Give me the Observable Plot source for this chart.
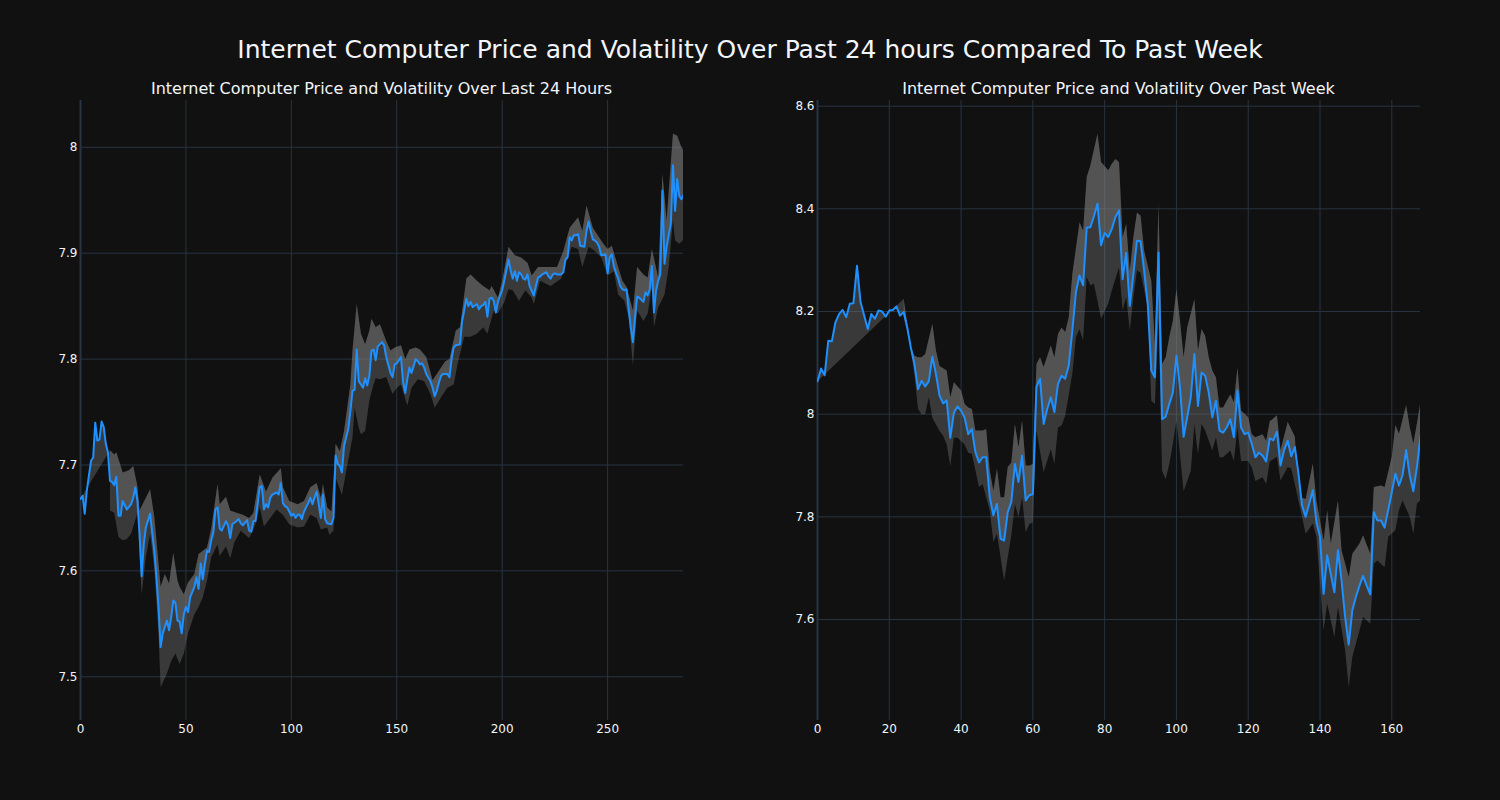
<!DOCTYPE html>
<html><head><meta charset="utf-8">
<script src="https://cdn.jsdelivr.net/npm/d3@7"></script>
<script src="https://cdn.jsdelivr.net/npm/@observablehq/plot@0.6"></script>
<style>
body{margin:0;background:#111111;}
#wrap{position:relative;width:1500px;height:800px;background:#111111;font-family:"DejaVu Sans",sans-serif;color:#f2f5fa;overflow:hidden;}
.t{position:absolute;white-space:nowrap;transform:translateX(-50%);line-height:1;}
.chart{position:absolute;top:0;}
</style></head><body><div id="wrap">
<div class="t" id="mainTitle" style="left:750px;top:36.5px;font-size:25px"></div>
<div class="t" id="subL" style="left:381.5px;top:80.5px;font-size:16px"></div>
<div class="t" id="subR" style="left:1118.5px;top:80.5px;font-size:16px"></div>
<div class="chart" id="left" style="left:0px"></div>
<div class="chart" id="right" style="left:737px"></div>
</div>
<script>
// ---- texts ----
const mainTitle = "Internet Computer Price and Volatility Over Past 24 hours Compared To Past Week";
const leftTitle = "Internet Computer Price and Volatility Over Last 24 Hours";
const rightTitle = "Internet Computer Price and Volatility Over Past Week";

// ---- last 24 hours: [index, value] ----
const dayPrice = [[0,7.668],[1,7.671],[2,7.654],[3,7.676],[5,7.704],[6,7.707],[7,7.740],[8,7.723],[9,7.724],[10,7.741],[11,7.736],[12,7.720],[13,7.712],[14,7.685],[15,7.684],[16,7.681],[17,7.689],[18,7.652],[19,7.652],[20,7.666],[21,7.662],[22,7.658],[24,7.663],[25,7.669],[26,7.679],[27,7.666],[28,7.635],[29,7.595],[30,7.625],[31,7.641],[33,7.654],[34,7.636],[35,7.619],[36,7.594],[37,7.566],[38,7.528],[39,7.541],[41,7.553],[42,7.544],[43,7.556],[44,7.572],[45,7.570],[46,7.553],[47,7.552],[48,7.541],[49,7.559],[50,7.566],[51,7.561],[52,7.575],[54,7.585],[55,7.594],[56,7.583],[57,7.607],[58,7.592],[59,7.607],[60,7.619],[61,7.618],[62,7.629],[63,7.636],[64,7.658],[65,7.660],[66,7.640],[67,7.638],[69,7.647],[70,7.643],[71,7.631],[72,7.644],[74,7.647],[75,7.649],[76,7.645],[77,7.643],[79,7.648],[80,7.638],[81,7.637],[82,7.647],[83,7.647],[85,7.679],[86,7.680],[87,7.658],[88,7.663],[89,7.660],[90,7.669],[91,7.672],[93,7.674],[94,7.672],[95,7.683],[96,7.664],[97,7.661],[98,7.660],[100,7.652],[101,7.654],[102,7.650],[103,7.653],[104,7.653],[105,7.649],[106,7.656],[108,7.664],[109,7.669],[110,7.663],[112,7.675],[113,7.663],[114,7.650],[115,7.672],[116,7.649],[117,7.645],[119,7.644],[120,7.650],[121,7.709],[122,7.701],[123,7.699],[124,7.693],[125,7.718],[127,7.734],[128,7.751],[129,7.770],[130,7.771],[131,7.809],[132,7.779],[133,7.776],[134,7.773],[135,7.782],[136,7.775],[137,7.784],[138,7.808],[139,7.809],[140,7.799],[141,7.812],[143,7.816],[144,7.813],[145,7.802],[147,7.787],[148,7.783],[149,7.795],[150,7.796],[152,7.802],[153,7.778],[154,7.768],[155,7.781],[156,7.792],[157,7.787],[159,7.800],[160,7.798],[161,7.795],[162,7.796],[163,7.792],[164,7.786],[166,7.779],[167,7.773],[168,7.765],[169,7.770],[170,7.778],[171,7.784],[172,7.786],[174,7.786],[175,7.783],[176,7.800],[177,7.811],[178,7.813],[180,7.814],[181,7.836],[182,7.846],[183,7.857],[184,7.850],[185,7.854],[186,7.849],[188,7.852],[189,7.847],[190,7.850],[191,7.851],[192,7.854],[193,7.840],[194,7.857],[195,7.858],[196,7.855],[197,7.844],[198,7.854],[199,7.860],[200,7.865],[201,7.874],[203,7.894],[204,7.884],[205,7.876],[206,7.883],[207,7.874],[208,7.882],[209,7.880],[210,7.876],[211,7.875],[212,7.880],[213,7.869],[215,7.860],[216,7.869],[217,7.877],[218,7.878],[219,7.880],[221,7.882],[222,7.878],[223,7.876],[224,7.880],[225,7.881],[226,7.880],[228,7.880],[229,7.882],[230,7.894],[231,7.896],[232,7.915],[233,7.912],[234,7.917],[235,7.917],[236,7.918],[237,7.907],[239,7.906],[240,7.921],[241,7.930],[242,7.921],[243,7.913],[244,7.912],[245,7.910],[246,7.906],[247,7.898],[249,7.899],[250,7.881],[251,7.896],[252,7.899],[253,7.887],[255,7.876],[256,7.869],[257,7.866],[258,7.865],[259,7.866],[260,7.847],[261,7.830],[262,7.816],[263,7.839],[264,7.859],[265,7.858],[267,7.854],[268,7.863],[269,7.860],[270,7.866],[271,7.888],[272,7.844],[273,7.865],[274,7.874],[275,7.880],[276,7.959],[277,7.890],[278,7.906],[280,7.928],[281,7.983],[282,7.940],[283,7.970],[284,7.954],[285,7.951],[286,7.955]];
const dayUpper = [[14,7.714],[16,7.710],[17,7.712],[20,7.693],[23,7.695],[25,7.699],[27,7.680],[28,7.657],[33,7.677],[35,7.651],[38,7.585],[40,7.597],[42,7.588],[44,7.617],[46,7.591],[47,7.585],[49,7.578],[51,7.589],[54,7.597],[56,7.616],[58,7.619],[60,7.622],[62,7.640],[65,7.682],[66,7.663],[69,7.670],[71,7.657],[74,7.655],[77,7.653],[80,7.650],[82,7.655],[85,7.691],[88,7.675],[91,7.688],[95,7.697],[96,7.679],[99,7.666],[103,7.663],[106,7.666],[109,7.679],[112,7.683],[114,7.669],[115,7.682],[117,7.660],[119,7.656],[121,7.720],[123,7.713],[125,7.732],[128,7.776],[129,7.808],[131,7.852],[133,7.824],[135,7.814],[137,7.827],[138,7.838],[140,7.830],[142,7.833],[145,7.817],[147,7.808],[149,7.811],[152,7.813],[154,7.800],[156,7.809],[159,7.811],[161,7.809],[164,7.802],[167,7.780],[171,7.792],[173,7.798],[175,7.800],[178,7.827],[180,7.830],[183,7.876],[185,7.880],[188,7.874],[191,7.869],[194,7.865],[195,7.869],[198,7.858],[200,7.874],[203,7.906],[206,7.898],[209,7.896],[212,7.891],[214,7.879],[217,7.887],[220,7.887],[223,7.887],[226,7.887],[229,7.902],[232,7.924],[236,7.934],[238,7.921],[240,7.945],[243,7.924],[245,7.918],[248,7.909],[250,7.904],[252,7.907],[255,7.887],[257,7.874],[259,7.868],[262,7.846],[264,7.887],[267,7.880],[269,7.877],[271,7.904],[274,7.877],[276,7.975],[278,7.931],[281,8.013],[283,8.011],[285,8.000],[286,7.997]];
const dayLower = [[14,7.657],[16,7.655],[18,7.632],[20,7.629],[22,7.630],[24,7.635],[27,7.655],[29,7.578],[31,7.613],[33,7.635],[35,7.603],[37,7.541],[38,7.490],[41,7.503],[43,7.515],[45,7.522],[47,7.512],[49,7.522],[51,7.541],[54,7.559],[56,7.566],[58,7.575],[60,7.591],[62,7.613],[65,7.625],[66,7.614],[69,7.623],[71,7.612],[73,7.627],[76,7.638],[80,7.631],[83,7.644],[85,7.660],[87,7.642],[90,7.650],[93,7.658],[96,7.653],[99,7.644],[103,7.641],[106,7.642],[109,7.653],[112,7.650],[114,7.639],[117,7.641],[118,7.634],[120,7.638],[121,7.688],[124,7.672],[126,7.694],[129,7.726],[130,7.754],[132,7.735],[133,7.729],[135,7.732],[137,7.761],[139,7.776],[140,7.782],[142,7.781],[145,7.783],[148,7.767],[150,7.773],[152,7.776],[155,7.756],[157,7.773],[160,7.781],[163,7.779],[166,7.767],[168,7.754],[171,7.764],[174,7.773],[177,7.776],[179,7.797],[182,7.821],[185,7.821],[188,7.824],[191,7.830],[193,7.824],[196,7.846],[198,7.843],[201,7.854],[203,7.866],[205,7.865],[208,7.855],[211,7.865],[214,7.858],[215,7.852],[218,7.874],[223,7.869],[228,7.876],[230,7.890],[233,7.906],[236,7.904],[238,7.887],[241,7.906],[244,7.902],[247,7.896],[250,7.879],[253,7.883],[255,7.861],[258,7.855],[260,7.839],[262,7.794],[264,7.846],[267,7.836],[269,7.843],[271,7.868],[272,7.830],[274,7.849],[277,7.861],[279,7.887],[281,7.931],[282,7.912],[284,7.909],[286,7.913]];

// ---- past week: [index, value] ----
const weekPrice = [[0,8.064],[1,8.089],[2,8.076],[3,8.143],[4,8.142],[5,8.179],[6,8.195],[7,8.203],[8,8.189],[9,8.215],[10,8.216],[11,8.289],[12,8.218],[13,8.192],[14,8.166],[15,8.195],[16,8.186],[17,8.202],[18,8.200],[19,8.190],[20,8.202],[21,8.203],[22,8.210],[23,8.192],[24,8.199],[25,8.169],[26,8.130],[27,8.098],[28,8.049],[29,8.065],[30,8.054],[31,8.064],[32,8.112],[33,8.078],[34,8.036],[35,8.021],[36,8.027],[37,7.954],[38,8.003],[39,8.015],[40,8.007],[41,7.993],[42,7.961],[43,7.971],[44,7.926],[45,7.906],[46,7.916],[47,7.916],[48,7.838],[49,7.803],[50,7.825],[51,7.757],[52,7.754],[53,7.809],[54,7.829],[55,7.903],[56,7.868],[57,7.919],[58,7.832],[59,7.842],[60,7.844],[61,8.053],[62,8.069],[63,7.981],[64,8.010],[65,8.033],[66,8.004],[67,8.059],[68,8.075],[69,8.069],[70,8.095],[71,8.163],[72,8.238],[73,8.270],[74,8.251],[75,8.363],[76,8.364],[77,8.385],[78,8.410],[79,8.329],[80,8.353],[81,8.345],[82,8.361],[83,8.384],[84,8.397],[85,8.263],[86,8.314],[87,8.211],[88,8.273],[89,8.338],[90,8.337],[91,8.280],[92,8.215],[93,8.085],[94,8.072],[95,8.315],[96,7.990],[97,7.995],[98,8.020],[99,8.042],[100,8.114],[101,8.052],[102,7.956],[103,7.994],[104,8.033],[105,8.117],[106,8.016],[107,8.081],[108,8.075],[109,8.042],[110,7.994],[111,8.026],[112,7.968],[113,7.964],[114,7.974],[115,7.990],[116,7.955],[117,8.046],[118,7.974],[119,7.961],[120,7.964],[121,7.942],[122,7.916],[123,7.925],[124,7.919],[125,7.908],[126,7.953],[127,7.949],[128,7.966],[129,7.900],[130,7.930],[131,7.948],[132,7.918],[133,7.936],[134,7.884],[135,7.822],[136,7.800],[137,7.826],[138,7.852],[139,7.790],[140,7.761],[141,7.650],[142,7.725],[143,7.689],[144,7.653],[145,7.735],[146,7.676],[147,7.605],[148,7.551],[149,7.618],[150,7.644],[151,7.666],[152,7.685],[153,7.666],[154,7.649],[155,7.809],[156,7.793],[157,7.793],[158,7.779],[159,7.813],[160,7.848],[161,7.884],[162,7.861],[163,7.881],[164,7.930],[165,7.881],[166,7.850],[167,7.897],[168,7.956]];
const weekUpper = [[24,8.225],[26,8.130],[27,8.114],[28,8.111],[29,8.111],[30,8.117],[32,8.176],[33,8.124],[34,8.094],[36,8.085],[37,8.033],[38,8.062],[40,8.046],[41,8.020],[42,8.013],[43,8.010],[44,7.968],[46,7.968],[47,7.971],[48,7.890],[49,7.851],[50,7.894],[51,7.838],[52,7.838],[53,7.897],[54,7.906],[55,7.981],[56,7.936],[57,7.988],[58,7.900],[59,7.900],[60,7.903],[61,8.098],[62,8.111],[63,8.092],[65,8.134],[66,8.111],[67,8.156],[68,8.169],[69,8.160],[70,8.189],[71,8.273],[73,8.374],[74,8.358],[75,8.462],[76,8.484],[78,8.546],[79,8.491],[81,8.475],[82,8.488],[83,8.497],[84,8.491],[85,8.345],[86,8.371],[87,8.280],[88,8.345],[89,8.393],[90,8.387],[91,8.319],[93,8.260],[94,8.137],[95,8.410],[96,8.098],[97,8.111],[98,8.150],[99,8.182],[100,8.244],[101,8.182],[102,8.111],[103,8.169],[105,8.224],[106,8.124],[107,8.166],[108,8.153],[109,8.111],[110,8.085],[111,8.072],[112,8.013],[113,8.013],[115,8.039],[116,8.023],[117,8.091],[118,8.007],[120,7.994],[121,7.961],[122,7.955],[124,7.961],[125,7.948],[126,7.986],[128,7.998],[129,7.930],[131,7.985],[133,7.956],[134,7.839],[136,7.835],[138,7.904],[139,7.832],[141,7.754],[142,7.813],[143,7.748],[145,7.832],[146,7.735],[148,7.683],[149,7.728],[151,7.748],[152,7.764],[154,7.728],[155,7.858],[157,7.861],[158,7.858],[160,7.917],[161,7.979],[162,7.962],[164,8.018],[165,7.975],[166,7.943],[167,7.982],[168,8.024]];
const weekLower = [[24,8.192],[26,8.124],[27,8.078],[28,8.010],[29,8.000],[30,8.000],[31,8.033],[32,7.993],[34,7.967],[35,7.958],[36,7.941],[37,7.899],[38,7.954],[39,7.954],[41,7.941],[42,7.925],[43,7.923],[45,7.858],[46,7.864],[48,7.812],[49,7.751],[50,7.767],[52,7.676],[53,7.721],[54,7.764],[55,7.825],[56,7.799],[57,7.838],[58,7.770],[59,7.786],[60,7.789],[61,7.968],[63,7.887],[65,7.932],[66,7.903],[67,7.974],[68,7.978],[69,7.997],[71,8.079],[72,8.150],[73,8.166],[74,8.144],[75,8.267],[76,8.251],[77,8.254],[78,8.221],[79,8.186],[81,8.215],[82,8.241],[84,8.286],[85,8.202],[86,8.228],[87,8.163],[88,8.228],[89,8.280],[90,8.276],[92,8.208],[93,8.026],[94,8.020],[95,8.189],[96,7.890],[97,7.873],[98,7.903],[99,7.942],[100,7.987],[101,7.922],[102,7.850],[104,7.890],[105,7.981],[106,7.922],[107,7.981],[108,7.968],[110,7.929],[111,7.955],[112,7.916],[113,7.916],[115,7.929],[116,7.909],[117,7.974],[118,7.909],[120,7.909],[121,7.896],[122,7.870],[124,7.877],[125,7.864],[126,7.908],[128,7.917],[129,7.871],[131,7.897],[132,7.894],[134,7.832],[136,7.767],[138,7.787],[139,7.761],[141,7.579],[142,7.631],[144,7.566],[145,7.624],[147,7.540],[148,7.468],[149,7.527],[151,7.579],[152,7.605],[154,7.592],[155,7.709],[156,7.715],[158,7.702],[159,7.761],[161,7.774],[162,7.813],[163,7.832],[165,7.800],[166,7.767],[167,7.826],[168,7.832]];

// ---- axes ----
const dayXTicks = [0, 50, 100, 150, 200, 250];
const dayYTicks = [7.5, 7.6, 7.7, 7.8, 7.9, 8.0];
const dayYLabels = ["7.5", "7.6", "7.7", "7.8", "7.9", "8"];
const dayXDomain = [0, 286];
const dayYDomain = [7.4587, 8.0442];
const weekXTicks = [0, 20, 40, 60, 80, 100, 120, 140, 160];
const weekYTicks = [7.6, 7.8, 8.0, 8.2, 8.4, 8.6];
const weekYLabels = ["7.6", "7.8", "8", "8.2", "8.4", "8.6"];
const weekXDomain = [0, 168];
const weekYDomain = [7.4033, 8.611];

document.getElementById("mainTitle").textContent = mainTitle;
document.getElementById("subL").textContent = leftTitle;
document.getElementById("subR").textContent = rightTitle;

const pts = a => a.map(([x, y]) => ({x, y}));
// closed polygon: forward along one series, back along another (like a "fill to next trace")
const polygon = (fwd, back) => pts(fwd).concat(pts(back.slice().reverse()));

function panel(price, upper, lower, xDomain, yDomain, xTicks, yTicks, yLabels) {
  const GRID = "#283442";
  const FILL = "#808080";
  return Plot.plot({
    width: 683, height: 800,
    marginLeft: 80, marginRight: 0, marginTop: 100, marginBottom: 80,
    style: {background: "transparent", color: "#f2f5fa", fontFamily: "'DejaVu Sans', sans-serif", fontSize: "12px"},
    x: {domain: xDomain, ticks: xTicks, tickSize: 0, tickPadding: 4, tickFormat: d => String(d), label: null},
    y: {domain: yDomain, ticks: yTicks, tickSize: 0, tickPadding: 3,
        tickFormat: d => yLabels[yTicks.indexOf(d)], label: null},
    marks: [
      Plot.gridY(yTicks, {stroke: GRID, strokeOpacity: 1, strokeWidth: 1}),
      Plot.gridX(xTicks.filter(d => d !== 0), {stroke: GRID, strokeOpacity: 1, strokeWidth: 1}),
      Plot.ruleX([0], {stroke: GRID, strokeWidth: 2}),
      Plot.line(polygon(lower, upper), {x: "x", y: "y", fill: FILL, fillOpacity: 0.37, stroke: "none", clip: true}),
      Plot.line(polygon(price, upper), {x: "x", y: "y", fill: FILL, fillOpacity: 0.37, stroke: "none", clip: true}),
      Plot.line(pts(price), {x: "x", y: "y", stroke: "#1E90FF", strokeWidth: 2, clip: true})
    ]
  });
}

document.getElementById("left").append(
  panel(dayPrice, dayUpper, dayLower, dayXDomain, dayYDomain, dayXTicks, dayYTicks, dayYLabels));
document.getElementById("right").append(
  panel(weekPrice, weekUpper, weekLower, weekXDomain, weekYDomain, weekXTicks, weekYTicks, weekYLabels));
</script>
</body></html>
